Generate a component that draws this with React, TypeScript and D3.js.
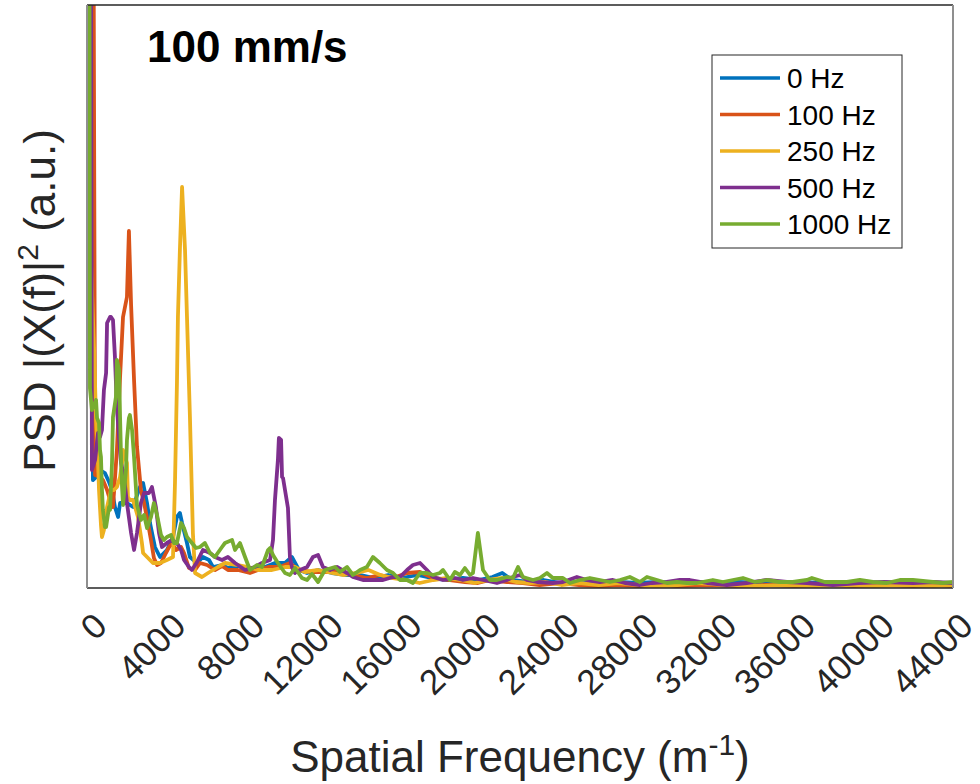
import { useRef, useEffect } from 'react';
import * as d3 from 'd3';

// legend / series setup
const seriesNames = ['0 Hz', '100 Hz', '250 Hz', '500 Hz', '1000 Hz'];
const seriesColors = ['#0072BD', '#D95319', '#EDB120', '#7E2F8E', '#77AC30'];
const xTicks = [0, 4000, 8000, 12000, 16000, 20000, 24000, 28000, 32000, 36000, 40000, 44000];

// [spatial frequency (1/m), PSD (a.u.)]
const psd0Hz = [
  [0, 3000], [300, 108], [460, 111], [660, 118], [910, 115], [1120, 106], [1270, 98], [1420, 81],
  [1580, 71], [1680, 85], [2030, 85], [2340, 81], [2690, 101], [2850, 105], [3050, 85], [3200, 65],
  [3450, 41], [3710, 31], [4060, 38], [4370, 51], [4570, 71], [4720, 75], [4830, 65], [5080, 45],
  [5230, 31], [5590, 25], [5890, 31], [6200, 28], [6400, 21], [6860, 23], [7160, 20], [7600, 23],
  [8130, 18], [8690, 20], [9040, 21], [9550, 25], [10060, 25], [10410, 31], [10770, 18], [11180, 15],
  [11740, 18], [12450, 15], [13200, 13], [13900, 13], [14600, 10], [15300, 13], [16000, 10], [16800, 13],
  [17500, 10], [18300, 8], [19100, 10], [19900, 8], [20600, 11], [21100, 15], [21600, 8], [22400, 6],
  [23200, 8], [24100, 5], [25000, 6], [26000, 5], [27000, 6], [28000, 5], [29000, 6], [30000, 5],
  [31000, 6], [32000, 5], [33000, 6], [34500, 5], [36000, 6], [37500, 5], [39000, 6], [40500, 5],
  [42000, 6], [43300, 5], [44000, 5],
];

const psd100Hz = [
  [0, 3000], [410, 113], [660, 111], [810, 108], [1020, 98], [1170, 88], [1320, 81], [1520, 138],
  [1680, 211], [1830, 271], [2030, 291], [2130, 357], [2240, 283], [2390, 208], [2540, 141], [2740, 98],
  [2900, 85], [3050, 70], [3250, 48], [3400, 30], [3560, 23], [3760, 25], [4010, 35], [4170, 41],
  [4320, 45], [4520, 38], [4780, 41], [4930, 35], [5180, 20], [5490, 18], [5740, 25], [6100, 23],
  [6500, 18], [6860, 22], [7160, 18], [7670, 18], [8280, 15], [8690, 18], [9200, 21], [9800, 21],
  [10310, 25], [10720, 18], [11430, 16], [12090, 16], [12750, 16], [13510, 13], [14220, 10], [14880, 13],
  [15550, 10], [16260, 15], [16920, 16], [17580, 10], [18440, 8], [19200, 6], [19860, 5], [20470, 8],
  [21340, 6], [22150, 5], [23000, 3], [24000, 5], [25000, 3], [26000, 2], [27000, 3], [28000, 2],
  [29000, 3], [30000, 2], [31500, 3], [33000, 2], [34500, 3], [36000, 2], [37500, 3], [39000, 2],
  [40500, 3], [42000, 2], [43200, 3], [44000, 2],
];

const psd250Hz = [
  [0, 504], [100, 388], [250, 298], [360, 238], [460, 168], [560, 128], [610, 98], [710, 63],
  [760, 51], [860, 58], [1020, 81], [1220, 98], [1370, 98], [1520, 101], [1680, 111], [1780, 125],
  [1830, 138], [2030, 125], [2080, 91], [2180, 88], [2340, 88], [2590, 71], [2790, 45], [2850, 35],
  [3050, 31], [3350, 25], [3710, 25], [4060, 28], [4370, 31], [4470, 105], [4570, 205], [4620, 271],
  [4720, 338], [4830, 401], [4980, 338], [5080, 271], [5230, 171], [5380, 55], [5490, 15], [5840, 11],
  [6150, 15], [6650, 21], [7010, 25], [7670, 23], [8180, 21], [8690, 18], [9400, 18], [10060, 21],
  [10570, 21], [11070, 16], [11740, 18], [12450, 15], [13000, 13], [13700, 15], [14300, 18], [14900, 13],
  [15550, 10], [16200, 8], [16900, 5], [17600, 8], [18300, 10], [19000, 8], [19700, 5], [20400, 8],
  [21100, 10], [21800, 6], [22500, 5], [23300, 6], [24100, 3], [25000, 5], [26000, 3], [27000, 5],
  [28000, 3], [29000, 2], [30000, 3], [31000, 5], [32500, 3], [34000, 2], [35500, 3], [37000, 2],
  [38500, 3], [40000, 2], [41500, 3], [43000, 2], [44000, 3],
];

const psd500Hz = [
  [0, 3000], [250, 118], [410, 128], [560, 155], [660, 151], [760, 158], [860, 198], [970, 215],
  [1020, 265], [1170, 271], [1220, 271], [1320, 268], [1420, 231], [1520, 180], [1730, 125], [1880, 111],
  [2030, 85], [2240, 55], [2390, 38], [2540, 55], [2740, 85], [2900, 95], [3150, 95], [3300, 101],
  [3500, 81], [3660, 55], [3810, 41], [4060, 45], [4320, 48], [4570, 45], [4780, 38], [4930, 28],
  [5180, 21], [5330, 18], [5590, 26], [5890, 38], [6250, 35], [6500, 31], [6860, 28], [7160, 31],
  [7520, 25], [8030, 18], [8530, 21], [8890, 25], [9300, 28], [9450, 48], [9550, 88], [9700, 128],
  [9750, 150], [9860, 148], [9910, 111], [9960, 110], [10060, 98], [10210, 80], [10310, 31], [10410, 21],
  [10570, 15], [10820, 18], [11180, 21], [11480, 31], [11740, 33], [11990, 21], [12350, 18], [12700, 21],
  [13210, 15], [13510, 11], [14020, 8], [14530, 8], [15040, 8], [15550, 11], [15900, 11], [16260, 18],
  [16560, 23], [16920, 25], [17270, 18], [17580, 11], [18090, 8], [18690, 10], [19100, 8], [19610, 10],
  [20120, 8], [20830, 5], [21340, 8], [21640, 11], [22000, 13], [22350, 8], [22860, 6], [23670, 5],
  [24180, 6], [24890, 11], [25400, 8], [26060, 6], [26720, 8], [27330, 5], [28090, 3], [28700, 5],
  [29460, 6], [30120, 8], [30630, 8], [31500, 5], [32510, 3], [33530, 5], [34540, 8], [35560, 6],
  [36580, 5], [37900, 3], [39200, 5], [40500, 6], [41960, 5], [43000, 6], [44000, 5],
];

const psd1000Hz = [
  [0, 3000], [150, 200], [250, 178], [460, 188], [510, 170], [610, 165], [660, 138], [710, 131],
  [760, 98], [810, 78], [910, 61], [970, 61], [1120, 81], [1170, 78], [1270, 125], [1320, 171],
  [1470, 191], [1520, 228], [1630, 218], [1680, 171], [1730, 130], [1780, 101], [1830, 83], [1980, 118],
  [2030, 148], [2130, 170], [2180, 173], [2290, 158], [2390, 131], [2540, 83], [2740, 68], [2900, 73],
  [3050, 60], [3250, 71], [3400, 85], [3560, 73], [3760, 53], [3910, 48], [4060, 51], [4270, 53],
  [4420, 45], [4570, 45], [4780, 65], [4930, 60], [5080, 51], [5330, 45], [5540, 40], [5740, 41],
  [5990, 45], [6250, 35], [6500, 31], [6860, 41], [7010, 45], [7370, 48], [7520, 38], [7770, 45],
  [8030, 31], [8280, 18], [8640, 23], [8890, 21], [9200, 38], [9300, 40], [9450, 33], [9700, 25],
  [10060, 15], [10310, 13], [10570, 20], [10920, 10], [11180, 8], [11430, 14], [11740, 6], [12090, 18],
  [12600, 21], [12850, 16], [13210, 21], [13510, 13], [13870, 18], [14220, 21], [14530, 31], [14880, 25],
  [15240, 18], [15550, 15], [15900, 8], [16260, 8], [16560, 5], [16920, 15], [17270, 15], [17580, 13],
  [17930, 15], [18090, 18], [18440, 8], [18690, 16], [18950, 13], [19200, 20], [19460, 13], [19610, 15],
  [19860, 55], [20120, 18], [20470, 8], [20830, 8], [21340, 11], [21640, 10], [21900, 21], [22150, 11],
  [22660, 8], [23010, 10], [23370, 15], [23670, 10], [24180, 10], [24540, 5], [25050, 8], [25550, 10],
  [26060, 8], [26570, 6], [27080, 8], [27580, 11], [28090, 6], [28450, 11], [28960, 8], [29460, 5],
  [29970, 6], [30480, 5], [30990, 5], [31800, 8], [32310, 6], [32820, 8], [33330, 10], [33940, 6],
  [34540, 8], [35200, 6], [35860, 6], [36580, 8], [36830, 10], [37490, 6], [38000, 6], [38610, 6],
  [39270, 8], [39930, 6], [40640, 5], [41300, 8], [41960, 8], [42470, 7], [42980, 6], [43490, 5],
  [44000, 6],
];

const allSeries = [psd0Hz, psd100Hz, psd250Hz, psd500Hz, psd1000Hz];

export default function App() {
  const svgRef = useRef(null);
  const width = 980;
  const height = 784;
  const m = { left: 87, right: 953, top: 5, bottom: 588 };

  useEffect(() => {
    const svg = d3.select(svgRef.current);
    svg.selectAll('*').remove();
    svg.attr('width', width).attr('height', height);

    const x = d3.scaleLinear().domain([0, 44000]).range([m.left, m.right]);
    const y = d3.scaleLinear().domain([0, 583]).range([m.bottom, m.top]);
    const font = "'Liberation Sans', Arial, Helvetica, sans-serif";

    svg.append('defs').append('clipPath').attr('id', 'plotclip')
      .append('rect')
      .attr('x', m.left).attr('y', m.top)
      .attr('width', m.right - m.left).attr('height', m.bottom - m.top);

    svg.append('rect').attr('width', width).attr('height', height).attr('fill', '#fff');

    const line = d3.line().x((d) => x(d[0])).y((d) => y(d[1]));

    svg.append('g').attr('clip-path', 'url(#plotclip)')
      .selectAll('path')
      .data(allSeries)
      .join('path')
      .attr('d', (d) => line(d))
      .attr('fill', 'none')
      .attr('stroke', (d, i) => seriesColors[i])
      .attr('stroke-width', 3.8)
      .attr('stroke-linejoin', 'round')
      .attr('stroke-linecap', 'round');

    // box: left/right gray, top/bottom dark
    svg.append('line').attr('x1', m.left).attr('x2', m.right).attr('y1', m.top).attr('y2', m.top)
      .attr('stroke', '#262626').attr('stroke-width', 1.5);
    svg.append('line').attr('x1', m.left).attr('x2', m.right).attr('y1', m.bottom).attr('y2', m.bottom)
      .attr('stroke', '#262626').attr('stroke-width', 1.5);
    svg.append('line').attr('x1', m.left).attr('x2', m.left).attr('y1', m.top).attr('y2', m.bottom)
      .attr('stroke', '#8f8f8f').attr('stroke-width', 2);
    svg.append('line').attr('x1', m.right).attr('x2', m.right).attr('y1', m.top).attr('y2', m.bottom)
      .attr('stroke', '#8f8f8f').attr('stroke-width', 2);

    // rotated tick labels
    svg.append('g')
      .selectAll('text')
      .data(xTicks)
      .join('text')
      .attr('transform', (d) => `translate(${x(d) + 22},${628}) rotate(-45)`)
      .attr('text-anchor', 'end')
      .attr('font-family', font)
      .attr('font-size', 35)
      .attr('fill', '#262626')
      .text((d) => d);

    // x label
    const xl = svg.append('text')
      .attr('x', (m.left + m.right) / 2).attr('y', 772)
      .attr('text-anchor', 'middle')
      .attr('font-family', font).attr('font-size', 44).attr('fill', '#262626');
    xl.append('tspan').text('Spatial Frequency (m');
    xl.append('tspan').attr('dy', -17).attr('font-size', 30).text('-1');
    xl.append('tspan').attr('dy', 17).text(')');

    // y label
    const yl = svg.append('text')
      .attr('transform', `translate(55,${(m.top + m.bottom) / 2 + 4}) rotate(-90)`)
      .attr('text-anchor', 'middle')
      .attr('font-family', font).attr('font-size', 44).attr('fill', '#262626');
    yl.append('tspan').text('PSD |(X(f)|');
    yl.append('tspan').attr('dy', -17).attr('font-size', 30).text('2');
    yl.append('tspan').attr('dy', 17).text(' (a.u.)');

    // speed label
    svg.append('text')
      .attr('x', 147).attr('y', 62)
      .attr('font-family', font).attr('font-size', 44).attr('font-weight', 'bold')
      .attr('fill', '#000')
      .text('100 mm/s');

    // legend
    const lg = svg.append('g');
    lg.append('rect')
      .attr('x', 712).attr('y', 55).attr('width', 190).attr('height', 193)
      .attr('fill', '#fff').attr('stroke', '#262626').attr('stroke-width', 1);
    const rows = lg.selectAll('g.row')
      .data(seriesNames)
      .join('g')
      .attr('class', 'row')
      .attr('transform', (d, i) => `translate(0,${78 + i * 36.5})`);
    rows.append('line')
      .attr('x1', 720).attr('x2', 780)
      .attr('stroke', (d, i) => seriesColors[i]).attr('stroke-width', 3.4);
    rows.append('text')
      .attr('x', 787).attr('y', 10)
      .attr('font-family', font).attr('font-size', 28).attr('fill', '#000')
      .text((d) => d);
  }, []);

  return (
    <div style={{ position: 'absolute', left: 0, top: 0 }}>
      <svg ref={svgRef} style={{ display: 'block' }} />
    </div>
  );
}
